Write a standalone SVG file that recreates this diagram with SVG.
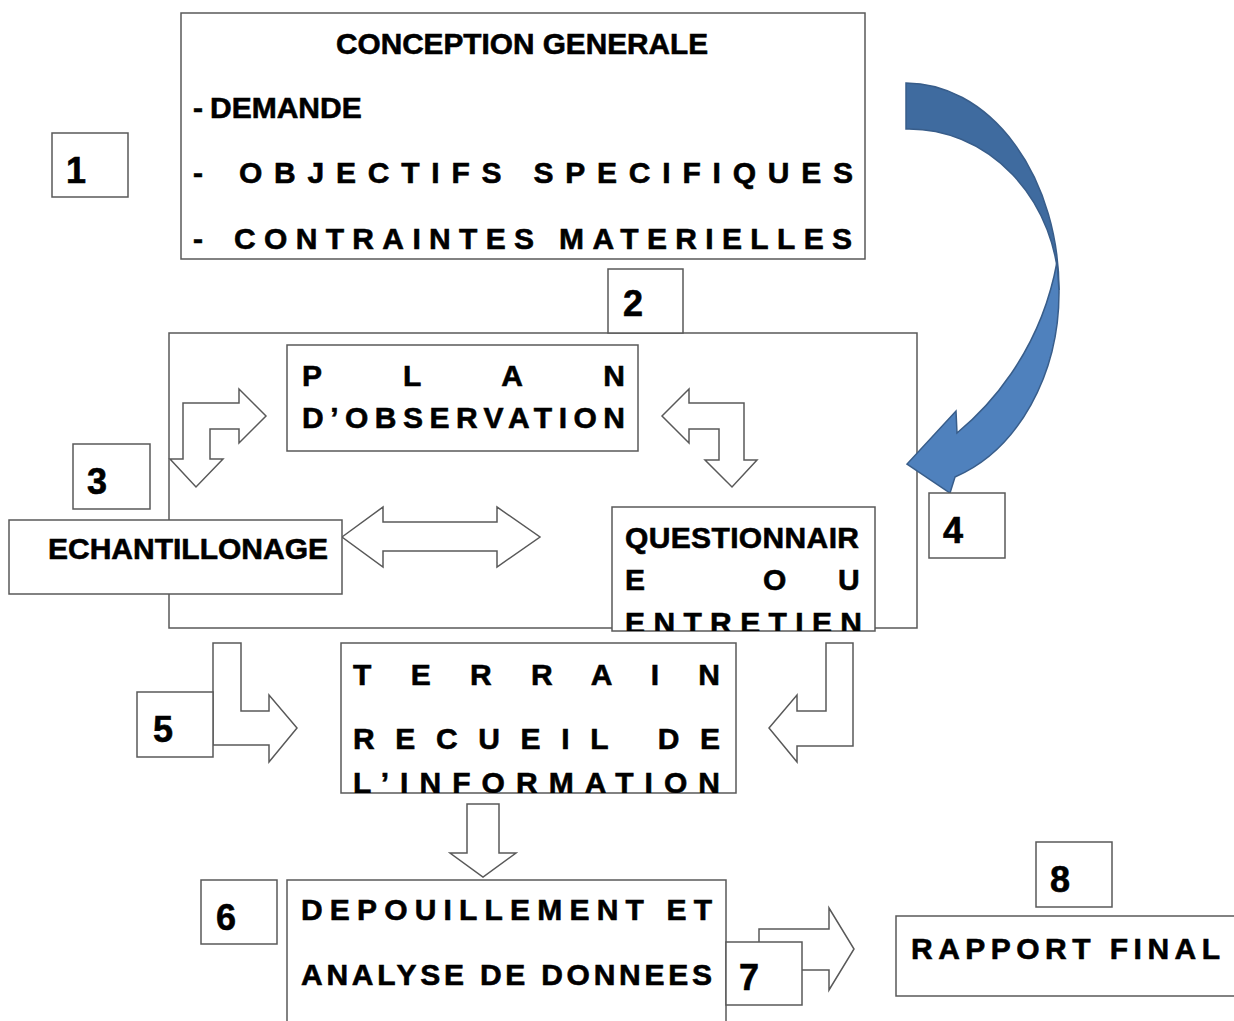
<svg xmlns="http://www.w3.org/2000/svg" width="1234" height="1021" viewBox="0 0 1234 1021">
<defs>
<style>
.box{fill:#fff;stroke:#595959;stroke-width:1.5}
.frame{fill:none;stroke:#595959;stroke-width:1.5}
.arr{fill:#fff;stroke:#595959;stroke-width:1.5;stroke-linejoin:miter}
.t{font-family:"Liberation Sans",Arial,sans-serif;font-weight:bold;font-size:30px;fill:#000;stroke:#000;stroke-width:0.6}
.n{font-family:"Liberation Sans",Arial,sans-serif;font-weight:bold;font-size:36px;fill:#000;stroke:#000;stroke-width:0.6}
.blueA{fill:#3f6b9f;stroke:#385d8a;stroke-width:1.5}
.blueB{fill:#4f81bd;stroke:#385d8a;stroke-width:1.5}
</style>
<clipPath id="clipQ"><rect x="612" y="507" width="263" height="124"/></clipPath>
<clipPath id="clipT"><rect x="341" y="643" width="395" height="150"/></clipPath>
</defs>
<rect width="1234" height="1021" fill="#fff"/>

<g id="frame-2">
<rect class="frame" x="169" y="333" width="748" height="295"/>
</g>

<g id="connectors">
<path class="blueA" d="M906,83 A153,207 0 0 1 1059,290 A150,165 0 0 0 906,129 Z"/>
<path class="blueB" d="M1057,262 L1059,290 A153,195 0 0 1 955,477 L950,493 L907,464 L956,411 L957,433 C985,410 1040,355 1057,262 Z"/>
<polygon class="arr" points="266,416 239,389 239,403 183,403 183,459 170,459 196,487 223,459 210,459 210,429 239,429 239,443"/>
<polygon class="arr" points="662,416 689,389 689,403 744,403 744,460 757,460 732,487 705,460 719,460 719,429 689,429 689,443"/>
<polygon class="arr" points="342,537 383,507 383,522 497,522 497,507 540,537 497,567 497,551 383,551 383,567"/>
<polygon class="arr" points="213,643 241,643 241,711 269,711 269,695 297,728 269,762 269,745 213,745"/>
<polygon class="arr" points="853,643 826,643 826,711 797,711 797,695 769,728 797,762 797,746 853,746"/>
<polygon class="arr" points="467,804 499,804 499,853 516,853 483,877 450,853 467,853"/>
<polygon class="arr" points="759,970 759,929 829,929 829,908 854,949 829,990 829,970"/>
</g>

<g id="conception">
<rect class="box" x="181" y="13" width="684" height="246"/>
<text class="t" x="336" y="54" textLength="372" lengthAdjust="spacingAndGlyphs">CONCEPTION GENERALE</text>
<text class="t" x="193" y="118">-</text>
<text class="t" x="210" y="118">DEMANDE</text>
<text class="t" x="193" y="183">-</text>
<text class="t" x="239" y="183" textLength="614" lengthAdjust="spacing">OBJECTIFS SPECIFIQUES</text>
<text class="t" x="193" y="249">-</text>
<text class="t" x="234" y="249" textLength="618" lengthAdjust="spacing">CONTRAINTES MATERIELLES</text>
</g>

<g id="label-1">
<rect class="box" x="52" y="133" width="76" height="64"/>
<text class="n" x="66" y="183">1</text>
</g>

<g id="label-2">
<rect class="box" x="608" y="269" width="75" height="64"/>
<text class="n" x="623" y="316">2</text>
</g>

<g id="plan">
<rect class="box" x="287" y="345" width="351" height="106"/>
<text class="t" x="302" y="386" textLength="323" lengthAdjust="spacing">P L A N</text>
<text class="t" x="302" y="428" textLength="323" lengthAdjust="spacing">D’OBSERVATION</text>
</g>

<g id="label-3">
<rect class="box" x="73" y="444" width="77" height="65"/>
<text class="n" x="87" y="494">3</text>
</g>

<g id="echantillonage">
<rect class="box" x="9" y="520" width="333" height="74"/>
<text class="t" x="48" y="559">ECHANTILLONAGE</text>
</g>

<g id="questionnaire">
<rect class="box" x="612" y="507" width="263" height="124"/>
<g clip-path="url(#clipQ)">
<text class="t" x="625" y="548" textLength="234" lengthAdjust="spacing">QUESTIONNAIR</text>
<text class="t" y="590"><tspan x="625">E</tspan> <tspan x="763">O</tspan> <tspan x="838">U</tspan></text>
<text class="t" x="625" y="633" textLength="237" lengthAdjust="spacing">ENTRETIEN</text>
</g>
</g>

<g id="label-4">
<rect class="box" x="929" y="493" width="76" height="65"/>
<text class="n" x="943" y="543">4</text>
</g>

<g id="terrain">
<rect class="box" x="341" y="643" width="395" height="150"/>
<g clip-path="url(#clipT)">
<text class="t" x="353" y="685" textLength="367" lengthAdjust="spacing">T E R R A I N</text>
<text class="t" x="353" y="749" textLength="367" lengthAdjust="spacing">RECUEIL DE</text>
<text class="t" x="353" y="793" textLength="367" lengthAdjust="spacing">L’INFORMATION</text>
</g>
</g>

<g id="label-5">
<rect class="box" x="137" y="692" width="76" height="65"/>
<text class="n" x="153" y="742">5</text>
</g>

<g id="label-6">
<rect class="box" x="201" y="880" width="76" height="64"/>
<text class="n" x="216" y="930">6</text>
</g>

<g id="depouillement">
<rect class="box" x="287" y="880" width="439" height="150"/>
<text class="t" x="301" y="920" textLength="411" lengthAdjust="spacing">DEPOUILLEMENT ET</text>
<text class="t" x="301" y="985" textLength="411" lengthAdjust="spacing">ANALYSE DE DONNEES</text>
</g>

<g id="label-7">
<rect class="box" x="726" y="942" width="76" height="63"/>
<text class="n" x="739" y="990">7</text>
</g>

<g id="label-8">
<rect class="box" x="1036" y="842" width="76" height="65"/>
<text class="n" x="1050" y="892">8</text>
</g>

<g id="rapport">
<rect class="box" x="896" y="916" width="345" height="80"/>
<text class="t" x="911" y="959" textLength="309" lengthAdjust="spacing">RAPPORT FINAL</text>
</g>
</svg>
